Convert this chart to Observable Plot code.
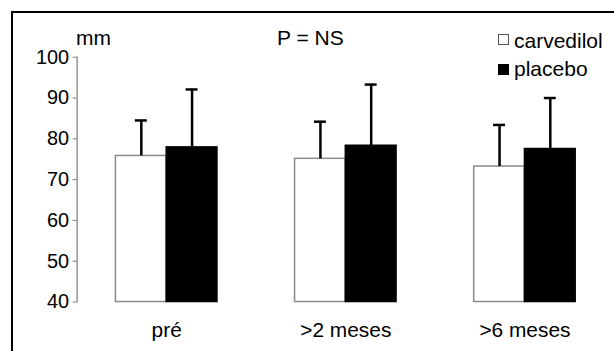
<!DOCTYPE html>
<html>
<head>
<meta charset="utf-8">
<script src="https://cdn.jsdelivr.net/npm/d3@7"></script>
<script src="https://cdn.jsdelivr.net/npm/@observablehq/plot@0.6"></script>
<style>
  body { margin: 0; background: #fff; }
  #wrap { position: relative; width: 614px; height: 351px; overflow: hidden; background: #fff;
          font-family: "Liberation Sans", Arial, sans-serif; }
  #frame { position: absolute; left: 11px; top: 11px; width: 700px; height: 500px; border: 2px solid #000; box-sizing: border-box; }
  #chart { position: absolute; left: 0; top: 0; }
  .t { position: absolute; font-size: 21px; line-height: 21px; color: #000; white-space: nowrap; }
  .sq { position: absolute; width: 11px; height: 11px; box-sizing: border-box; }
</style>
</head>
<body>
<div id="wrap">
  <div id="frame"></div>
  <div id="chart"></div>
  <div class="t" style="left:76px; top:27px;">mm</div>
  <div class="t" style="left:277px; top:27px;">P = NS</div>
  <div class="sq" style="left:498px; top:34px; border:1px solid #555; background:#fff;"></div>
  <div class="t" id="leg0" style="left:514px; top:30px;"></div>
  <div class="sq" style="left:498px; top:64px; background:#000;"></div>
  <div class="t" id="leg1" style="left:514px; top:58px;"></div>
</div>
<script>
const groups = ["pré", ">2 meses", ">6 meses"];
const series = ["carvedilol", "placebo"];
const carvedilolMean = [75.8, 75.1, 73.2];
const carvedilolSD = [8.7, 9.1, 10.2];
const placeboMean = [77.9, 78.3, 77.5];
const placeboSD = [14.2, 15.0, 12.5];
const yTicks = [40, 50, 60, 70, 80, 90, 100];
const seriesFill = {carvedilol: "white", placebo: "black"};
const seriesStroke = {carvedilol: "#8a8a8a", placebo: "black"};

const means = {carvedilol: carvedilolMean, placebo: placeboMean};
const sds = {carvedilol: carvedilolSD, placebo: placeboSD};
const rows = [];
groups.forEach((g, i) => series.forEach(s => rows.push({group: g, series: s, value: means[s][i], sd: sds[s][i]})));

document.getElementById("leg0").textContent = series[0];
document.getElementById("leg1").textContent = series[1];

const yMin = yTicks[0];

const chart = Plot.plot({
  width: 617,
  height: 351,
  marginLeft: 76,
  marginRight: 0,
  marginTop: 57,
  marginBottom: 48,
  style: {fontFamily: "'Liberation Sans', Arial, sans-serif", fontSize: "20px", background: "transparent", color: "black"},
  fx: {domain: groups, padding: 0, label: null, axis: null},
  x: {domain: series, paddingInner: 0, paddingOuter: 0.758, axis: null},
  y: {domain: [yTicks[0], yTicks[yTicks.length - 1]], axis: null},
  marks: [
    Plot.frame({anchor: "left", facet: "super", stroke: "#7a7a7a", strokeWidth: 1.2}),
    Plot.axisY({ticks: yTicks, tickSize: 4, tickPadding: 4, stroke: "#7a7a7a", fill: "black", fontSize: 20, label: null}),
    Plot.axisFx({anchor: "bottom", tickSize: 0, tickPadding: 20, fontSize: 21, label: null}),
    Plot.barY(rows, {fx: "group", x: "series", y1: yMin, y2: "value",
      fill: d => seriesFill[d.series], stroke: d => seriesStroke[d.series], strokeWidth: 1.5}),
    Plot.ruleX(rows, {fx: "group", x: "series", y1: "value", y2: d => d.value + d.sd, stroke: "black", strokeWidth: 2.5}),
    Plot.tickY(rows, {fx: "group", x: "series", y: d => d.value + d.sd, stroke: "black", strokeWidth: 2.5, insetLeft: 19.5, insetRight: 19.5})
  ]
});
document.getElementById("chart").appendChild(chart);
</script>
</body>
</html>
